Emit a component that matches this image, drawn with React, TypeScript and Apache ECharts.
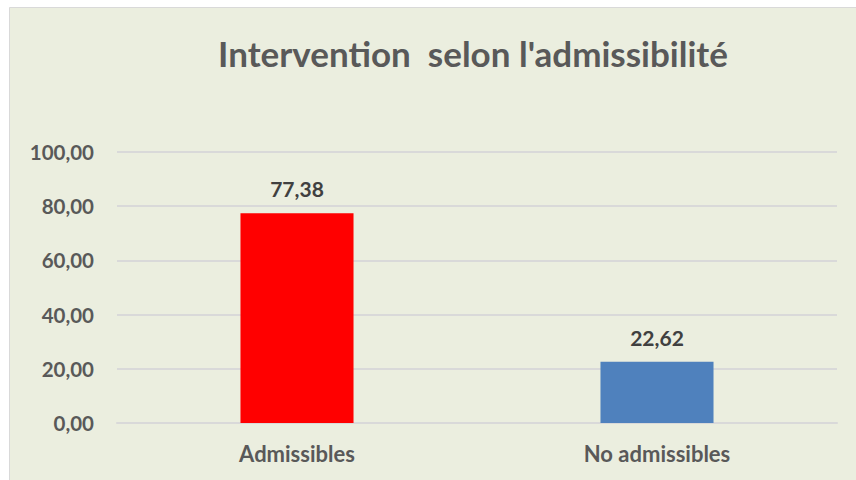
import React, { useEffect, useRef } from "react";
import * as echarts from "echarts";

const categories = ["Admissibles", "No admissibles"];
const values = [77.38, 22.62];
const barColors = ["#FF0000", "#4F81BD"];
const yTicks = { min: 0, max: 100, interval: 20 };
const titleText = "Intervention  selon l'admissibilité";

const fmt = (v: number) => v.toFixed(2).replace(".", ",");

export default function App() {
  const ref = useRef<HTMLDivElement>(null);
  useEffect(() => {
    if (!ref.current) return;
    const chart = echarts.init(ref.current, null, { renderer: "svg" });
    const font = "Lato, 'Open Sans', sans-serif";
    chart.setOption({
      animation: false,
      backgroundColor: "#ffffff",
      graphic: [
        {
          type: "rect",
          z: -10,
          shape: { x: 9.5, y: 7.5, width: 860, height: 480 },
          style: { fill: "#EBEEDF", stroke: "#D9D9D9", lineWidth: 1 },
        },
      ],
      title: {
        text: titleText,
        left: 468,
        top: 30,
        textAlign: "center",
        textStyle: { fontFamily: font, fontWeight: "bold", fontSize: 35, color: "#595959" },
      },
      grid: { left: 117, right: 19, top: 152, bottom: 57 },
      xAxis: {
        type: "category",
        data: categories,
        axisLine: { show: true, lineStyle: { color: "#D9D9D9", width: 2 } },
        axisTick: { show: false },
        axisLabel: { fontFamily: font, fontWeight: "bold", fontSize: 22, color: "#595959", margin: 19 },
      },
      yAxis: {
        type: "value",
        min: yTicks.min,
        max: yTicks.max,
        interval: yTicks.interval,
        axisLine: { show: false },
        axisTick: { show: false },
        splitLine: { lineStyle: { color: "#D9D9D9", width: 2 } },
        axisLabel: {
          fontFamily: font,
          fontWeight: "bold",
          fontSize: 20.5,
          color: "#595959",
          margin: 23,
          formatter: (v: number) => fmt(v),
        },
      },
      series: [
        {
          type: "bar",
          barWidth: "31.4%",
          data: values.map((v, i) => ({ value: v, itemStyle: { color: barColors[i] } })),
          label: {
            show: true,
            position: "top",
            distance: 14,
            fontFamily: font,
            fontWeight: "bold",
            fontSize: 21,
            color: "#404040",
            formatter: (p: any) => fmt(p.value),
          },
        },
      ],
    });
    return () => chart.dispose();
  }, []);
  return (
    <div
      ref={ref}
      style={{ position: "absolute", left: 0, top: 0, width: 856, height: 480 }}
    />
  );
}
